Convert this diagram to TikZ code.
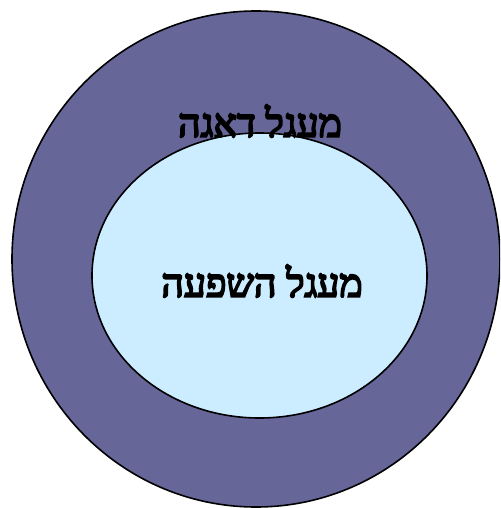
\documentclass[tikz,border=0pt]{standalone}
\usepackage{fontspec}
\usepackage{tikz}
\usetikzlibrary{positioning}
\TeXXeTstate=1
\newfontfamily\hebfont[Script=Hebrew, FakeBold=5]{Liberation Serif}
\definecolor{concernpurple}{HTML}{666699}
\definecolor{influenceblue}{HTML}{CCECFF}

\begin{document}
\begin{tikzpicture}[
    x=0.5pt, y=-0.5pt,
    ring/.style={draw=black, line width=0.8pt},
    label/.style={font=\fontsize{19.5}{22}\hebfont, inner sep=0pt},
  ]
    \useasboundingbox (0,0) rectangle (500,508);
    \clip (0,0) rectangle (500,508);

    \draw[ring, fill=concernpurple]  (256,259)   ellipse [x radius=244, y radius=248];
    \draw[ring, fill=influenceblue]  (259.5,275.5) ellipse [x radius=167.5, y radius=142.5];

    \node[label] (concern)   at (260,121) {\beginR מעגל דאגה\endR};
    \node[label] (influence) at (262,281) {\beginR מעגל השפעה\endR};
  \end{tikzpicture}
\end{document}
